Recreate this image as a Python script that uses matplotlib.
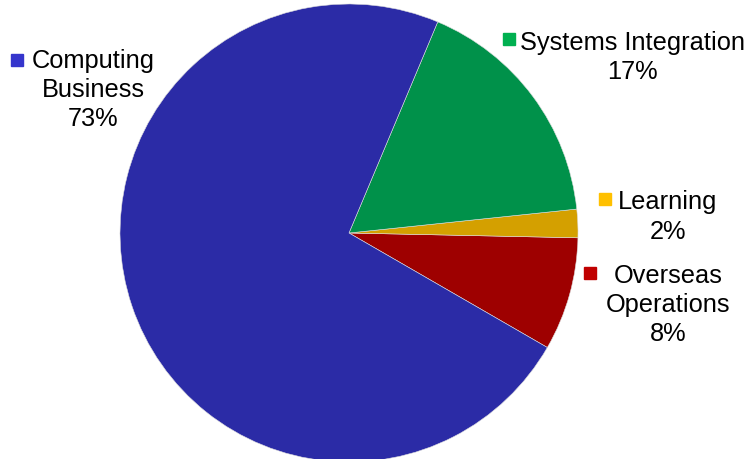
import matplotlib.pyplot as plt

# revenue split by segment
segments = ["Overseas\nOperations", "Learning", "Systems Integration", "Computing\nBusiness"]
shares = [8, 2, 17, 73]

wedge_colors = ["#9E0000", "#D4A000", "#00914A", "#2B2BA6"]
key_colors = ["#C00000", "#FFC000", "#00B050", "#3535CC"]

# label block centres and key squares, in pie-radius units
text_pos = [(1.393, -0.31), (1.393, 0.074), (1.236, 0.769), (-1.118, 0.629)]
key_pos = [(1.052, -0.175), (1.118, 0.148), (0.70, 0.847), (-1.45, 0.755)]

W, H = 747, 460
cx, cy, r = 349, 234, 229

fig = plt.figure(figsize=(W / 100, H / 100), dpi=100)
ax = fig.add_axes([0, 0, 1, 1])

ax.pie(shares, colors=wedge_colors, startangle=-30, counterclock=True,
       radius=1, wedgeprops=dict(edgecolor="#dddddd", linewidth=0.4))

for name, val, tp, kp, kc in zip(segments, shares, text_pos, key_pos, key_colors):
    ax.text(tp[0], tp[1], f"{name}\n{val}%", ha="center", va="center",
            multialignment="center", fontsize=18.3, linespacing=1.27,
            family="Liberation Sans", color="black")
    ax.plot(kp[0], kp[1], marker="s", markersize=8, color=kc, linestyle="none")

ax.set_aspect("auto")
ax.set_xlim(-cx / r, (W - cx) / r)
ax.set_ylim(-(H - cy) / r, cy / r)
ax.axis("off")

fig.savefig("out.png", dpi=100)
